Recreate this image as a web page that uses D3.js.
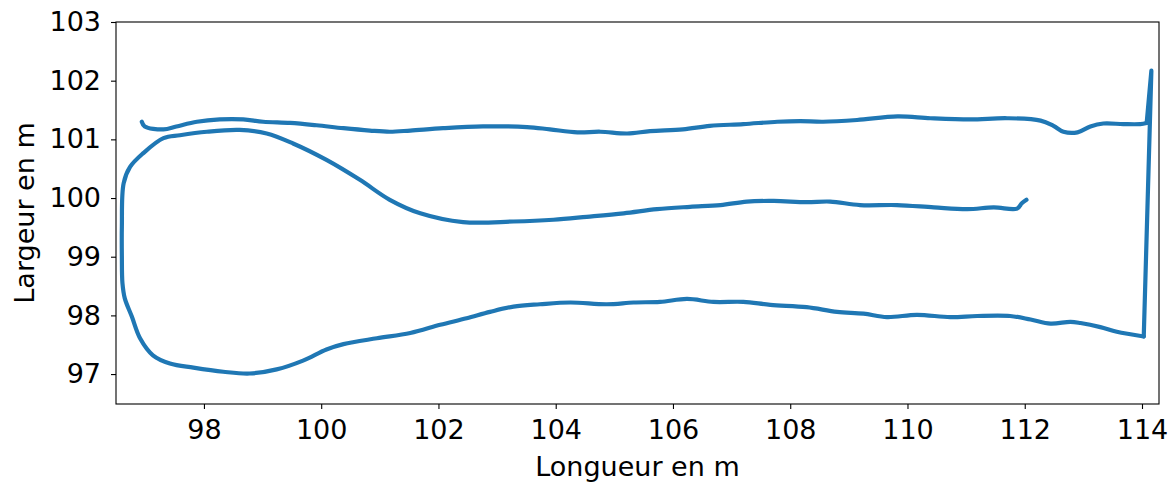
<!DOCTYPE html>
<html>
<head>
<meta charset="utf-8">
<script src="https://cdn.jsdelivr.net/npm/d3@7"></script>
<style>
  body { margin: 0; background: #fff; }
  text { font-family: "DejaVu Sans", sans-serif; fill: #000; }
</style>
</head>
<body>
<div id="chart"></div>
<script>
// Trajectory (Longueur, Largeur) in m
var longueur = [
    96.94, 96.99, 97.31, 97.53, 97.88, 98.27, 98.67, 99.01, 99.47, 99.92,
    100.38, 100.83, 101.17, 101.52, 102.08, 102.76, 103.51, 103.90, 104.37, 104.76,
    105.22, 105.61, 106.17, 106.63, 107.20, 107.78, 108.17, 108.56, 109.14, 109.83,
    110.39, 111.07, 111.70, 112.27, 112.49, 112.66, 112.90, 113.12, 113.34, 113.68,
    113.97, 114.08, 114.16, 114.03,
    113.57, 113.29, 112.95, 112.78, 112.44, 112.10, 111.75, 111.19, 110.73, 110.16,
    109.65, 109.25, 108.80, 108.28, 107.66, 107.20, 106.69, 106.24, 105.78, 105.33,
    104.87, 104.25, 103.73, 103.28, 102.88, 102.48, 102.03, 101.52, 100.95, 100.38,
    100.09, 99.69, 99.24, 98.78, 98.33, 97.82, 97.42, 97.13, 96.91, 96.77,
    96.65, 96.61, 96.60, 96.60, 96.63, 96.74, 96.96, 97.31, 97.59, 98.05,
    98.61, 99.07, 99.52, 100.09, 100.66, 101.17, 101.69, 102.42, 103.28, 103.96,
    104.53, 105.16, 105.73, 106.29, 106.81, 107.26, 107.72, 108.28, 108.68, 109.19,
    109.82, 110.45, 111.02, 111.47, 111.87, 111.95, 112.03
];
var largeur = [
    101.30, 101.22, 101.17, 101.22, 101.30, 101.34, 101.34, 101.30, 101.28, 101.24,
    101.19, 101.15, 101.13, 101.15, 101.19, 101.22, 101.21, 101.17, 101.12, 101.13,
    101.10, 101.14, 101.17, 101.23, 101.26, 101.30, 101.31, 101.30, 101.33, 101.39,
    101.36, 101.34, 101.36, 101.32, 101.23, 101.13, 101.12, 101.22, 101.27, 101.26,
    101.26, 101.28, 102.17, 97.64,
    97.72, 97.80, 97.87, 97.89, 97.86, 97.93, 97.99, 97.99, 97.97, 98.01,
    97.97, 98.03, 98.06, 98.14, 98.18, 98.23, 98.23, 98.28, 98.23, 98.22,
    98.19, 98.22, 98.19, 98.15, 98.06, 97.95, 97.84, 97.70, 97.61, 97.51,
    97.42, 97.23, 97.08, 97.01, 97.04, 97.11, 97.18, 97.32, 97.61, 97.98,
    98.29, 98.55, 99.00, 99.51, 100.25, 100.53, 100.76, 101.02, 101.07, 101.13,
    101.16, 101.10, 100.93, 100.65, 100.31, 99.97, 99.74, 99.59, 99.60, 99.63,
    99.68, 99.74, 99.81, 99.85, 99.88, 99.94, 99.95, 99.93, 99.94, 99.88,
    99.88, 99.84, 99.81, 99.84, 99.82, 99.91, 99.97
];
// indices of the sharp turns at the right end (spike up, then straight down)
var cornerStart = 41;
var cornerEnd = 43;

var xTicks = [98, 100, 102, 104, 106, 108, 110, 112, 114];
var yTicks = [97, 98, 99, 100, 101, 102, 103];

var svgWidth = 1171;
var svgHeight = 483;

var margin = {
    top: 22,
    right: 12,
    bottom: 79,
    left: 116
};

var width = svgWidth - margin.left - margin.right;
var height = svgHeight - margin.top - margin.bottom;
var fontSize = "27px";

var svg = d3.select("#chart")
    .append("svg")
    .attr("width", svgWidth)
    .attr("height", svgHeight);

var chartGroup = svg.append("g")
    .attr("transform", `translate(${margin.left}, ${margin.top})`);

// Scales (equal aspect, as in the picture)
var xScale = d3.scaleLinear()
    .domain([96.5, 114.29])
    .range([0, width]);

var yScale = d3.scaleLinear()
    .domain([96.49, 103])
    .range([height, 0]);

// Axes
var bottomAxis = d3.axisBottom(xScale)
    .tickValues(xTicks)
    .tickFormat(d3.format("d"))
    .tickSize(5)
    .tickPadding(11);

var leftAxis = d3.axisLeft(yScale)
    .tickValues(yTicks)
    .tickFormat(d3.format("d"))
    .tickSize(5)
    .tickPadding(10);

var xAxis = chartGroup.append("g")
    .attr("transform", `translate(0, ${height})`)
    .call(bottomAxis);

var yAxis = chartGroup.append("g")
    .call(leftAxis);

[xAxis, yAxis].forEach(function(ax) {
    ax.select(".domain").remove();
    ax.selectAll("line").attr("stroke", "#000").attr("stroke-width", 1.1);
    ax.selectAll("text")
        .attr("font-size", fontSize)
        .attr("font-family", "DejaVu Sans, sans-serif")
        .attr("fill", "#000");
});

// Trajectory line: smooth pieces, straight segments at the sharp corners
var points = longueur.map(function(d, i) { return [d, largeur[i]]; });

var smoothLine = d3.line()
    .x(d => xScale(d[0]))
    .y(d => yScale(d[1]))
    .curve(d3.curveCatmullRom.alpha(0.5));

var straightLine = d3.line()
    .x(d => xScale(d[0]))
    .y(d => yScale(d[1]));

var pieces = [
    { pts: points.slice(0, cornerStart + 1), gen: smoothLine },
    { pts: points.slice(cornerStart, cornerEnd + 1), gen: straightLine },
    { pts: points.slice(cornerEnd), gen: smoothLine }
];

chartGroup.selectAll(".traj")
    .data(pieces)
    .enter()
    .append("path")
    .attr("class", "traj")
    .attr("d", d => d.gen(d.pts))
    .attr("fill", "none")
    .attr("stroke", "#1f77b4")
    .attr("stroke-width", 4.2)
    .attr("stroke-linecap", "round")
    .attr("stroke-linejoin", "round");

// Frame
chartGroup.append("rect")
    .attr("width", width)
    .attr("height", height)
    .attr("fill", "none")
    .attr("stroke", "#000")
    .attr("stroke-width", 1.1);

// Axis labels
chartGroup.append("text")
    .attr("x", width / 2)
    .attr("y", height + 72)
    .attr("text-anchor", "middle")
    .attr("font-size", fontSize)
    .text("Longueur en m");

chartGroup.append("text")
    .attr("transform", "rotate(-90)")
    .attr("x", -height / 2)
    .attr("y", -91)
    .attr("dy", "0.35em")
    .attr("text-anchor", "middle")
    .attr("font-size", fontSize)
    .text("Largeur en m");
</script>
</body>
</html>
